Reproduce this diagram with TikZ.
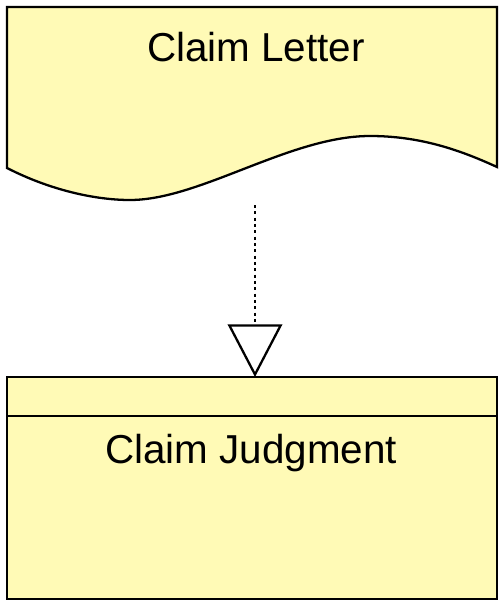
\documentclass[tikz,border=0pt]{standalone}
\usepackage{fontspec}
\setmainfont{Liberation Sans}
\usetikzlibrary{arrows.meta}
\definecolor{noteyellow}{RGB}{255,250,182}

\begin{document}
\begin{tikzpicture}[x=0.02cm,y=-0.02cm,line width=1.3pt,>={Triangle[open,width=31pt,length=30pt,line width=1.3pt]}]
\tikzstyle{every node}=[font=\fontsize{23}{27}\selectfont]
\useasboundingbox (0,0) rectangle (500,601);

% document shape with wavy bottom
\path[fill=noteyellow,draw=black] (7,7) -- (497,7) -- (497,167)
  .. controls (460,150) and (420,136) .. (370,136)
  .. controls (290,136) and (200,200) .. (130,200)
  .. controls (95,200) and (50,190) .. (7,168) -- cycle;

% class box with header band
\path[fill=noteyellow,draw=black] (7,377) rectangle (497,599);
\draw (7,416) -- (497,416);

\node (letter) at (256,47) {Claim Letter};
\node (judgment) at (251,453) {Claim Judgment};

\coordinate (src) at (255,205);
\coordinate (dst) at (255,377);
\draw[->,line width=1.7pt,dash pattern=on 1.7pt off 1.9pt] (src) -- (dst);

\end{tikzpicture}
\end{document}
